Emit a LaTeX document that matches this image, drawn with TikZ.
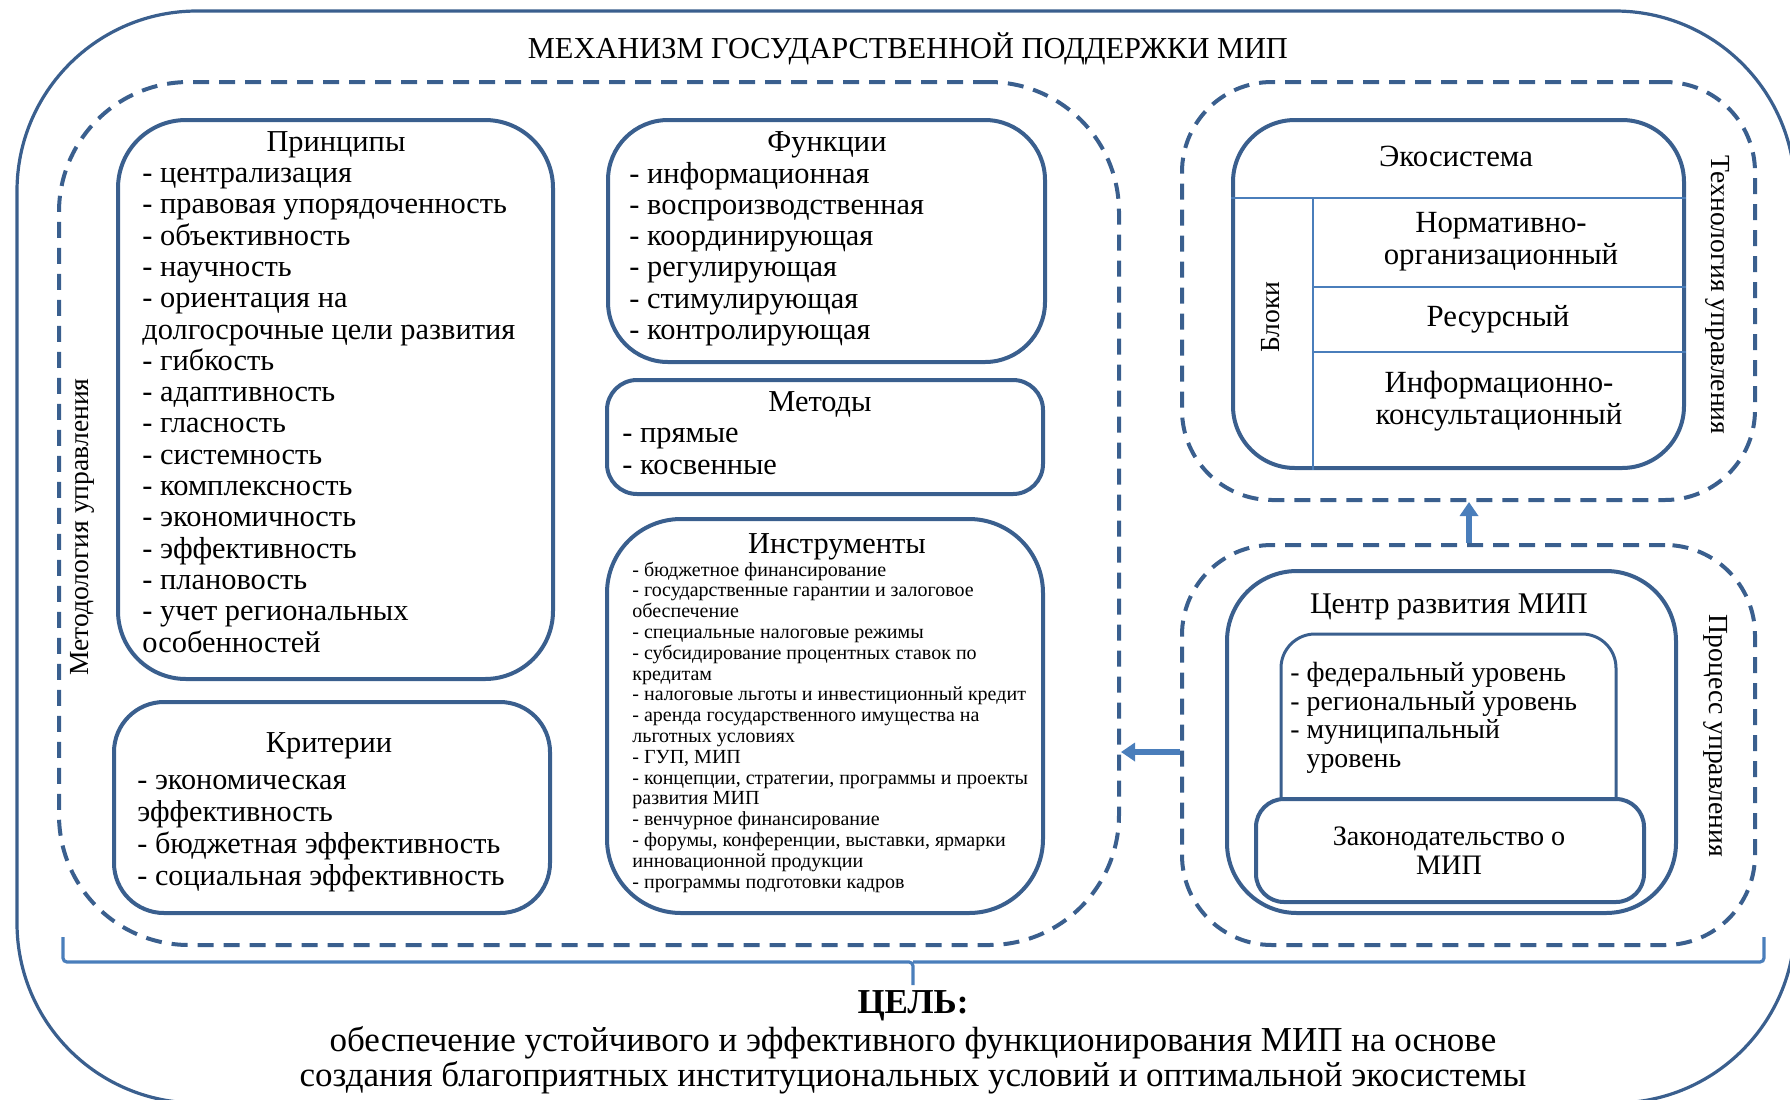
\documentclass[tikz,border=0pt]{standalone}
\usepackage{fontspec}
\setmainfont{Liberation Serif}
\usetikzlibrary{fit,arrows.meta}
\definecolor{dk}{HTML}{3A5F8E}
\definecolor{lt}{HTML}{4A7EBB}
\begin{document}
\begin{tikzpicture}[x=0.5pt,y=-0.5pt,
  box/.style={draw=dk, line width=2pt, rounded corners=#1, inner sep=0pt},
  dbox/.style={draw=dk, line width=2pt, dash pattern=on 8pt off 5pt, rounded corners=#1, inner sep=0pt},
  thinl/.style={draw=lt, line width=1.1pt},
  arr/.style={draw=lt, line width=3pt, -{Triangle[width=9pt,length=7pt]}},
  brk/.style={draw=lt, line width=1.6pt, rounded corners=2pt},
  lst/.style={anchor=base west, align=left, inner sep=0pt, font=\fontsize{15.2}{15.65}\selectfont},
  ttl/.style={anchor=base, inner sep=0pt, font=\fontsize{15.2}{15.65}\selectfont},
  vtxt/.style={inner sep=0pt, font=\fontsize{13.8}{16}\selectfont},
]
\useasboundingbox (0,0) rectangle (1790,1099);
\clip (0,0) rectangle (1790,1099);
% outer frame
\node[box=90pt, line width=1.6pt, fit={(17,11) (1795,1103)}] (outer) {};
\node[ttl] (title) at (908,58) {МЕХАНИЗМ ГОСУДАРСТВЕННОЙ ПОДДЕРЖКИ МИП};

% methodology (multi-line nodes: base = baseline of the last line)
\node[dbox=65pt, fit={(59,82) (1119,945)}] (metod) {};
\node[vtxt, rotate=90] (metodl) at (82,527) {Методология управления};

\node[box=34pt, fit={(118,120) (553,679)}] (princ) {};
\node[ttl] (princt) at (336,151) {Принципы};
\node[lst] (princl) at (142,652) {- централизация\\- правовая упорядоченность\\- объективность\\- научность\\- ориентация на\\долгосрочные цели развития\\- гибкость\\- адаптивность\\- гласность\\- системность\\- комплексность\\- экономичность\\- эффективность\\- плановость\\- учет региональных\\особенностей};

\node[box=25pt, fit={(114,702) (550,913)}] (crit) {};
\node[ttl] (critt) at (329,752) {Критерии};
\node[lst, font=\fontsize{15.1}{16}\selectfont] (critl) at (137,885.5) {- экономическая\\эффективность\\- бюджетная эффективность\\- социальная эффективность};

\node[box=30pt, fit={(608,120) (1045,362)}] (func) {};
\node[ttl] (funct) at (827,151) {Функции};
\node[lst] (funcl) at (629,339.5) {- информационная\\- воспроизводственная\\- координирующая\\- регулирующая\\- стимулирующая\\- контролирующая};

\node[box=15pt, fit={(607,380) (1043,494)}] (meth) {};
\node[ttl] (metht) at (820,411) {Методы};
\node[lst] (methl) at (622,474) {- прямые\\- косвенные};

\node[box=37pt, fit={(607,519) (1043,913)}] (instr) {};
\node[ttl] (instrt) at (837,553) {Инструменты};
\node[lst, font=\fontsize{10}{10.4}\selectfont] (instrl) at (632,888) {- бюджетное финансирование\\- государственные гарантии и залоговое\\обеспечение\\- специальные налоговые режимы\\- субсидирование процентных ставок по\\кредитам\\- налоговые льготы и инвестиционный кредит\\- аренда государственного имущества на\\льготных условиях\\- ГУП, МИП\\- концепции, стратегии, программы и проекты\\развития МИП\\- венчурное финансирование\\- форумы, конференции, выставки, ярмарки\\инновационной продукции\\- программы подготовки кадров};

% technology
\node[dbox=45pt, fit={(1182,82) (1755,500)}] (tech) {};
\node[vtxt, rotate=-90] (techl) at (1718,295) {Технология управления};
\node[box=31pt, fit={(1233,120) (1684,468)}] (eco) {};
\node[ttl, font=\fontsize{15.4}{16}\selectfont] (ecot) at (1456,166) {Экосистема};
\coordinate (h1) at (0,198);
\coordinate (h2) at (0,287);
\coordinate (h3) at (0,352);
\coordinate (v1) at (1313,0);
\draw[thinl] (eco.west |- h1) -- (eco.east |- h1);
\draw[thinl] (v1 |- h1) -- (v1 |- eco.south);
\draw[thinl] (v1 |- h2) -- (eco.east |- h2);
\draw[thinl] (v1 |- h3) -- (eco.east |- h3);
\node[vtxt, rotate=90] (blk) at (1271,317) {Блоки};
\node[ttl, align=center, font=\fontsize{15.4}{16}\selectfont] (b1) at (1501,264) {Нормативно-\\организационный};
\node[ttl, font=\fontsize{15.4}{16}\selectfont] (b2) at (1498,326) {Ресурсный};
\node[ttl, align=center, font=\fontsize{15.4}{16}\selectfont] (b3) at (1499,424) {Информационно-\\консультационный};

% process
\node[dbox=45pt, fit={(1182,545) (1755,945)}] (proc) {};
\node[vtxt, rotate=-90] (procl) at (1716,736) {Процесс управления};
\node[box=35pt, fit={(1227,571) (1676,913)}] (centr) {};
\node[ttl, font=\fontsize{15}{16}\selectfont] (centrt) at (1449,613) {Центр развития МИП};
\node[box=17pt, line width=1.5pt, fit={(1281,634) (1616,840)}] (levels) {};
\node[lst, font=\fontsize{13.9}{14.25}\selectfont] (levelsl) at (1290,767) {- федеральный уровень\\- региональный уровень\\- муниципальный\\\phantom{- }уровень};
\node[box=14pt, fill=white, fit={(1256,799) (1644,902)}] (law) {};
\node[ttl, align=center, font=\fontsize{14.1}{14.2}\selectfont] (lawt) at (1449,874) {Законодательство о\\МИП};

% connectors
\coordinate (upx) at (1469,0);
\draw[arr] (proc.north -| upx) -- (tech.south -| upx);
\coordinate (lefty) at (0,752);
\draw[arr] (proc.west |- lefty) -- (metod.east |- lefty);

% bracket and goal
\coordinate (bL) at (63,937);
\coordinate (bR) at (1764,937);
\coordinate (bM) at (913,962);
\coordinate (bT) at (913,985);
\draw[brk] (bL) |- (bM) -- (bT);
\draw[brk] (bR) |- (bM);
\node[anchor=base, inner sep=0pt, font=\fontsize{17.5}{18}\selectfont\bfseries] (goalh) at (913,1013) {ЦЕЛЬ:};
\node[anchor=base, align=center, inner sep=0pt, font=\fontsize{17.5}{17.4}\selectfont] (goal) at (913,1086) {обеспечение устойчивого и эффективного функционирования МИП на основе\\создания благоприятных институциональных условий и оптимальной экосистемы};
\end{tikzpicture}
\end{document}
